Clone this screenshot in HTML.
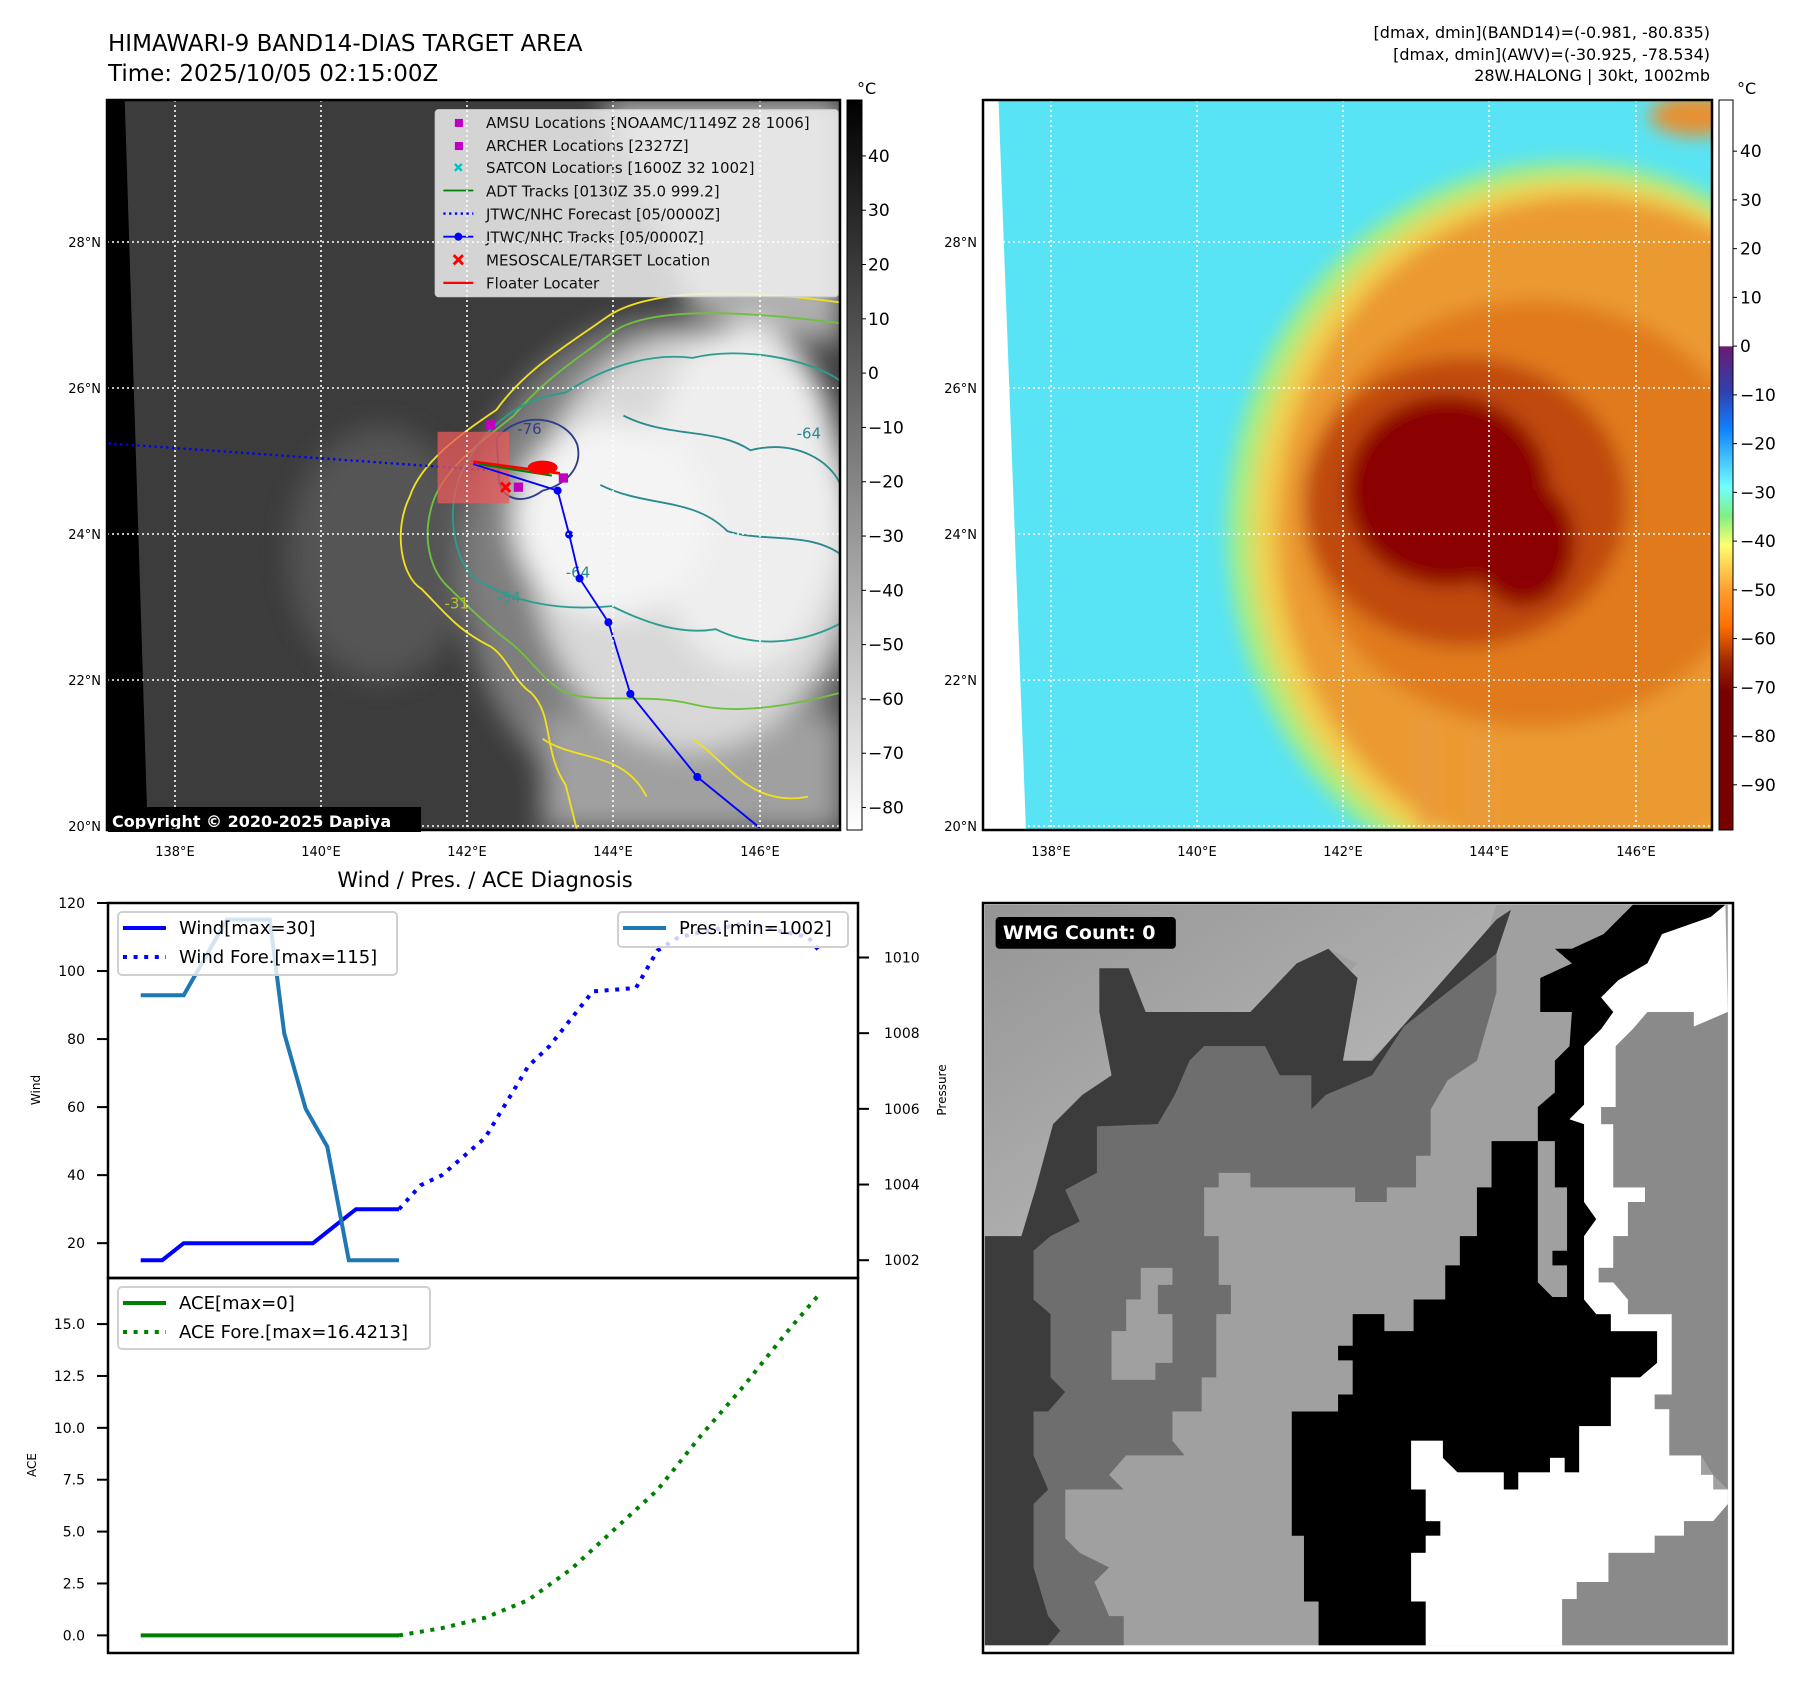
<!DOCTYPE html>
<html><head><meta charset="utf-8"><style>
html,body{margin:0;padding:0;background:#fff;}
svg{display:block;font-family:"DejaVu Sans","Liberation Sans",sans-serif;}
</style></head><body>
<svg id="fig" width="1801" height="1690" viewBox="0 0 1801 1690" xmlns="http://www.w3.org/2000/svg">
<defs>
<clipPath id="c1"><rect x="107" y="100" width="733" height="730"/></clipPath>
<clipPath id="c2"><rect x="983" y="100" width="729" height="730"/></clipPath>
<filter id="b12" x="-50%" y="-50%" width="200%" height="200%"><feGaussianBlur stdDeviation="12"/></filter>
<filter id="b8" x="-50%" y="-50%" width="200%" height="200%"><feGaussianBlur stdDeviation="8"/></filter>
<linearGradient id="cb1" x1="0" y1="0" x2="0" y2="1"><stop offset="0" stop-color="#000"/><stop offset="1" stop-color="#fff"/></linearGradient>
<linearGradient id="cb2" x1="0" y1="0" x2="0" y2="1">
<stop offset="0" stop-color="#fff"/><stop offset="0.337" stop-color="#fff"/>
<stop offset="0.338" stop-color="#6a1b70"/><stop offset="0.40" stop-color="#3040b0"/>
<stop offset="0.45" stop-color="#1080ff"/><stop offset="0.53" stop-color="#70ffff"/>
<stop offset="0.57" stop-color="#80f080"/><stop offset="0.61" stop-color="#ffff70"/>
<stop offset="0.67" stop-color="#ffa030"/><stop offset="0.72" stop-color="#ff7000"/>
<stop offset="0.77" stop-color="#a02800"/><stop offset="0.81" stop-color="#780000"/>
<stop offset="1" stop-color="#780000"/></linearGradient>
<linearGradient id="tl" x1="0" y1="0" x2="1" y2="1"><stop offset="0" stop-color="#959595"/><stop offset="0.6" stop-color="#b0b0b0"/><stop offset="1" stop-color="#c4c4c4"/></linearGradient>
</defs>

<!-- titles -->
<text x="108" y="51" font-size="23">HIMAWARI-9 BAND14-DIAS TARGET AREA</text>
<text x="108" y="81" font-size="23">Time: 2025/10/05 02:15:00Z</text>
<g font-size="16" text-anchor="end">
<text x="1710" y="38">[dmax, dmin](BAND14)=(-0.981, -80.835)</text>
<text x="1710" y="60">[dmax, dmin](AWV)=(-30.925, -78.534)</text>
<text x="1710" y="81">28W.HALONG | 30kt, 1002mb</text>
</g>

<!-- MAP 1 -->
<g clip-path="url(#c1)">
<g transform="scale(1.1545)">
<rect x="90" y="85" width="640" height="640" fill="#3c3c3c"/>
<g filter="url(#b12)">
<ellipse cx="330" cy="480" rx="80" ry="110" fill="#545454"/>
<ellipse cx="575" cy="490" rx="175" ry="215" fill="#7e7e7e"/>
<polygon points="520,86 728,86 728,300 600,270" fill="#b0b0b0"/>
<rect x="470" y="620" width="260" height="100" fill="#a0a0a0"/>
<ellipse cx="600" cy="470" rx="140" ry="180" fill="#d8d8d8"/>
<ellipse cx="645" cy="430" rx="85" ry="150" fill="#eeeeee"/>
<ellipse cx="530" cy="450" rx="85" ry="85" fill="#f4f4f4"/>
</g>
<polygon points="90,85 108,85 128,722 90,722" fill="#000"/>
<g fill="none" stroke-width="1.6">
<path d="M 728,262 C 640,250 560,250 525,275 C 490,300 455,320 430,355 C 400,375 365,400 355,430 C 340,460 348,500 365,510 C 385,530 395,545 425,560 C 440,570 445,590 460,600 C 480,620 470,650 490,680 L 500,720" stroke="#f0e020"/>
<path d="M 728,280 C 650,270 570,265 535,285 C 500,310 470,330 445,360 C 420,380 385,405 375,435 C 365,465 372,495 390,510 C 405,525 420,540 440,555 C 460,570 470,590 490,600 C 520,610 560,600 600,610 C 640,620 690,610 728,600" stroke="#70c040"/>
<path d="M 728,330 C 700,310 640,300 600,310 C 560,305 520,320 490,340 C 450,345 420,370 405,400 C 385,430 390,480 410,500 C 440,520 480,530 530,525 C 560,540 590,550 620,545 C 650,560 690,560 728,540" stroke="#2a9d8f"/>
<path d="M 540,360 C 580,380 620,370 650,390 C 690,380 720,400 728,420 M 520,420 C 560,440 600,430 630,460 C 660,470 700,460 728,480" stroke="#2a8a8f"/>
<path d="M 430,380 C 450,355 490,360 500,385 C 505,405 490,420 470,425 C 450,440 430,430 432,410 Z" stroke="#2c3e8c"/>
<path d="M 470,640 C 500,660 540,650 560,690 M 600,640 C 630,660 650,700 700,690" stroke="#f0e020"/>
</g>
<g font-size="13">
<text x="448" y="376" fill="#2c3e8c">-76</text>
<text x="490" y="500" fill="#2a8a8f">-64</text>
<text x="430" y="522" fill="#2a9d8f">-54</text>
<text x="385" y="527" fill="#c0c020">-31</text>
<text x="690" y="380" fill="#2a8a8f">-64</text>
</g>
<line x1="94" y1="384" x2="420" y2="407" stroke="#0000ff" stroke-width="2" stroke-dasharray="2 3"/>
<rect x="379" y="374" width="62" height="62" fill="rgba(235,90,90,0.75)"/>
<polyline points="410,402 483,425 493,463 502,501 527,539 546,601 604,673 658,717" fill="none" stroke="#0000ff" stroke-width="1.6"/>
<g fill="#0000ff"><circle cx="483" cy="425" r="3.5"/><circle cx="493" cy="463" r="3.5"/><circle cx="502" cy="501" r="3.5"/><circle cx="527" cy="539" r="3.5"/><circle cx="546" cy="601" r="3.5"/><circle cx="604" cy="673" r="3.5"/></g>
<line x1="410" y1="400" x2="485" y2="410" stroke="#f00" stroke-width="2.5"/>
<line x1="415" y1="402" x2="478" y2="412" stroke="#008000" stroke-width="1.8"/>
<ellipse cx="470" cy="405" rx="13" ry="6" fill="#f00"/>
<g fill="#c000c0"><rect x="421" y="364" width="8" height="8"/><rect x="484" y="410" width="8" height="8"/><rect x="445" y="418" width="8" height="8"/></g>
<path d="M 434,418 L 442,426 M 442,418 L 434,426" stroke="#f00" stroke-width="2.5"/>
<g>
<rect x="377" y="95" width="349" height="162" rx="3" fill="rgba(238,238,238,0.85)" stroke="#d0d0d0"/>
<rect x="394" y="103" width="7" height="7" fill="#c000c0"/>
<rect x="394" y="123" width="7" height="7" fill="#c000c0"/>
<path d="M 394,142 L 400,148 M 400,142 L 394,148" stroke="#00c0c0" stroke-width="2"/>
<line x1="384" y1="165" x2="410" y2="165" stroke="#008000" stroke-width="1.6"/>
<line x1="384" y1="185" x2="410" y2="185" stroke="#0000ff" stroke-width="2" stroke-dasharray="2 3"/>
<line x1="384" y1="205" x2="410" y2="205" stroke="#0000ff" stroke-width="1.6"/><circle cx="397" cy="205" r="3.5" fill="#0000ff"/>
<path d="M 393,221 L 401,229 M 401,221 L 393,229" stroke="#f00" stroke-width="2.5"/>
<line x1="384" y1="245" x2="410" y2="245" stroke="#f00" stroke-width="2"/>
<g font-size="13" fill="#111">
<text x="421" y="111">AMSU Locations [NOAAMC/1149Z 28 1006]</text>
<text x="421" y="131">ARCHER Locations [2327Z]</text>
<text x="421" y="150">SATCON Locations [1600Z 32 1002]</text>
<text x="421" y="170">ADT Tracks [0130Z 35.0 999.2]</text>
<text x="421" y="190">JTWC/NHC Forecast [05/0000Z]</text>
<text x="421" y="210">JTWC/NHC Tracks [05/0000Z]</text>
<text x="421" y="230">MESOSCALE/TARGET Location</text>
<text x="421" y="250">Floater Locater</text>
</g></g>
</g>
</g>
<g stroke="#fff" stroke-width="1.6" stroke-dasharray="2 3">
<line x1="175" y1="100" x2="175" y2="830"/><line x1="321" y1="100" x2="321" y2="830"/><line x1="467" y1="100" x2="467" y2="830"/><line x1="613" y1="100" x2="613" y2="830"/><line x1="760" y1="100" x2="760" y2="830"/>
<line x1="107" y1="242" x2="840" y2="242"/><line x1="107" y1="388" x2="840" y2="388"/><line x1="107" y1="534" x2="840" y2="534"/><line x1="107" y1="680" x2="840" y2="680"/><line x1="107" y1="826" x2="840" y2="826"/>
</g>
<rect x="108" y="807" width="313" height="25" fill="#000"/>
<text x="112" y="827" font-size="16" font-weight="bold" fill="#fff">Copyright © 2020-2025 Dapiya</text>
<rect x="107" y="100" width="733" height="730" fill="none" stroke="#000" stroke-width="2.5"/>

<!-- MAP 2 -->
<g clip-path="url(#c2)">
<g transform="translate(876,0) scale(1.1545)">
<rect x="90" y="85" width="640" height="640" fill="#58e4f4"/>
<g filter="url(#b8)">
<ellipse cx="600" cy="460" rx="295" ry="320" fill="#a8ee80"/>
<ellipse cx="605" cy="460" rx="280" ry="305" fill="#f0d050"/>
<ellipse cx="612" cy="460" rx="265" ry="290" fill="#eb9a30"/>
<ellipse cx="570" cy="445" rx="200" ry="185" fill="#e07a1a"/>
<ellipse cx="510" cy="435" rx="140" ry="125" fill="#c04a10"/>
<ellipse cx="495" cy="425" rx="88" ry="82" fill="#8b0000"/>
<ellipse cx="560" cy="470" rx="45" ry="55" fill="#8b0000"/>
<ellipse cx="710" cy="100" rx="40" ry="18" fill="#e89030"/>
<rect x="470" y="620" width="12" height="100" fill="#e89a40"/>
<rect x="520" y="630" width="10" height="90" fill="#e89a40"/>
</g>
<polygon points="90,85 106,85 130,722 90,722" fill="#fff"/>
</g>
</g>
<g stroke="#fff" stroke-width="1.6" stroke-dasharray="2 3">
<line x1="1051" y1="100" x2="1051" y2="830"/><line x1="1197" y1="100" x2="1197" y2="830"/><line x1="1343" y1="100" x2="1343" y2="830"/><line x1="1489" y1="100" x2="1489" y2="830"/><line x1="1636" y1="100" x2="1636" y2="830"/>
<line x1="983" y1="242" x2="1712" y2="242"/><line x1="983" y1="388" x2="1712" y2="388"/><line x1="983" y1="534" x2="1712" y2="534"/><line x1="983" y1="680" x2="1712" y2="680"/><line x1="983" y1="826" x2="1712" y2="826"/>
</g>
<rect x="983" y="100" width="729" height="730" fill="none" stroke="#000" stroke-width="2.5"/>

<!-- map tick labels -->
<g font-size="13">
<g text-anchor="end">
<text x="101" y="247">28°N</text><text x="101" y="393">26°N</text><text x="101" y="539">24°N</text><text x="101" y="685">22°N</text><text x="101" y="831">20°N</text>
<text x="977" y="247">28°N</text><text x="977" y="393">26°N</text><text x="977" y="539">24°N</text><text x="977" y="685">22°N</text><text x="977" y="831">20°N</text>
</g>
<g text-anchor="middle">
<text x="175" y="856">138°E</text><text x="321" y="856">140°E</text><text x="467" y="856">142°E</text><text x="613" y="856">144°E</text><text x="760" y="856">146°E</text>
<text x="1051" y="856">138°E</text><text x="1197" y="856">140°E</text><text x="1343" y="856">142°E</text><text x="1489" y="856">144°E</text><text x="1636" y="856">146°E</text>
</g></g>

<!-- colorbars -->
<rect x="847" y="100" width="15" height="730" fill="url(#cb1)" stroke="#000" stroke-width="1"/>
<rect x="1719" y="100" width="14" height="730" fill="url(#cb2)" stroke="#000" stroke-width="1"/>
<text x="857" y="94" font-size="16">°C</text>
<text x="1737" y="94" font-size="16">°C</text>
<g id="cbl" font-size="17"></g>

<!-- WMG panel -->
<g>
<svg x="980" y="900" width="760" height="760" viewBox="0 0 1560 1560">
<rect x="10" y="10" width="1525" height="1520" fill="#a0a0a0"/>
<polygon fill="url(#tl)" points="10,10 1060,10 1030,100 900,230 800,330 745,330 745,160 775,130 715,100 650,130 650,200 555,230 340,230 305,140 245,140 245,230 270,360 210,400 150,460 115,590 85,690 10,690"/>
<polygon fill="#6e6e6e" points="240,465 365,460 400,400 430,330 460,300 585,300 615,360 680,360 680,430 710,400 805,360 870,260 1060,110 1060,190 1020,330 960,370 925,430 925,525 895,525 895,590 835,590 835,620 770,620 770,590 555,590 555,560 490,560 490,590 460,590 460,690 490,690 490,790 515,790 515,850 485,850 485,980 455,980 455,1050 395,1050 395,1110 420,1140 300,1140 265,1180 295,1210 175,1210 175,1310 205,1340 265,1370 235,1400 265,1470 295,1470 295,1530 140,1530 165,1500 140,1470 110,1370 110,1240 140,1210 110,1140 110,1050 140,1050 175,1010 145,980 145,850 110,820 110,720 145,690 205,660 175,595 240,560"/>
<polygon fill="#a0a0a0" points="330,755 395,755 395,790 365,790 365,850 395,850 395,950 360,950 360,985 270,985 270,885 300,885 300,820 330,820"/>
<polygon fill="#3c3c3c" points="245,140 305,140 340,230 555,230 650,130 715,100 775,160 745,330 805,330 1060,40 1090,20 1060,110 870,260 805,360 710,400 680,430 680,360 615,360 585,300 460,300 430,330 400,400 365,460 240,465 240,560 175,595 205,660 145,690 110,720 110,820 145,850 145,980 175,1010 140,1050 110,1050 110,1140 140,1210 110,1240 110,1370 140,1470 165,1500 140,1530 10,1530 10,690 85,690 115,590 150,460 210,400 270,360 245,230"/>
<polygon fill="#000" points="1150,160 1215,130 1180,100 1215,100 1280,70 1310,40 1340,10 1530,10 1500,35 1400,70 1370,130 1310,165 1275,200 1300,230 1275,265 1240,300 1240,420 1210,450 1240,460 1240,620 1265,655 1240,690 1240,820 1265,850 1295,850 1295,885 1390,885 1390,950 1355,980 1295,980 1295,1080 1230,1080 1230,1175 1200,1175 1200,1145 1170,1145 1170,1175 1105,1175 1105,1210 1075,1210 1075,1175 980,1175 950,1145 950,1110 885,1110 885,1210 915,1210 915,1275 945,1275 945,1305 915,1305 915,1340 885,1340 885,1440 915,1440 915,1530 695,1530 695,1440 665,1440 665,1305 640,1305 640,1050 735,1050 735,1015 765,1015 765,945 735,945 735,915 765,915 765,850 830,850 830,885 890,885 890,820 955,820 955,750 985,750 985,690 1020,690 1020,590 1050,590 1050,495 1145,495 1145,425 1180,395 1180,330 1210,300 1215,230 1150,230"/>
<polygon fill="#a0a0a0" points="1145,495 1180,495 1180,590 1205,590 1205,720 1175,720 1175,750 1205,750 1205,815 1175,815 1145,785"/>
<polygon fill="#fff" points="1530,10 1535,230 1465,260 1465,230 1370,230 1340,265 1305,300 1305,425 1275,425 1275,460 1300,460 1300,590 1365,590 1365,620 1330,620 1330,690 1300,690 1300,755 1270,755 1270,785 1300,785 1330,820 1330,850 1420,850 1420,1015 1385,1015 1385,1045 1415,1045 1415,1140 1480,1140 1480,1180 1505,1180 1505,1210 1535,1210 1535,1240 1505,1275 1445,1275 1445,1305 1385,1305 1385,1340 1290,1340 1290,1400 1225,1400 1225,1435 1195,1435 1195,1530 915,1530 915,1440 885,1440 885,1340 915,1340 915,1305 945,1305 945,1275 915,1275 915,1210 885,1210 885,1110 950,1110 950,1145 980,1175 1075,1175 1075,1210 1105,1210 1105,1175 1170,1175 1170,1145 1200,1145 1200,1175 1230,1175 1230,1080 1295,1080 1295,980 1355,980 1390,950 1390,885 1295,885 1295,850 1265,850 1240,820 1240,690 1265,655 1240,620 1240,460 1210,450 1240,420 1240,300 1275,265 1300,230 1275,200 1310,165 1370,130 1400,70 1500,35"/>
<polygon fill="#8a8a8a" points="1305,300 1340,265 1370,230 1465,230 1465,260 1535,230 1535,1210 1505,1180 1480,1140 1415,1140 1415,1045 1385,1045 1385,1015 1420,1015 1420,850 1330,850 1330,820 1300,785 1270,785 1270,755 1300,755 1300,690 1330,690 1330,620 1365,620 1365,590 1300,590 1300,460 1275,460 1275,425 1305,425"/>
<polygon fill="#8a8a8a" points="1195,1530 1195,1435 1225,1435 1225,1400 1290,1400 1290,1340 1385,1340 1385,1305 1445,1305 1445,1275 1505,1275 1535,1240 1535,1530"/>
<rect x="10" y="1530" width="1525" height="20" fill="#fff"/>
<rect x="32" y="35" width="370" height="65" rx="8" fill="#000"/>
<text x="47" y="80" font-size="39" font-weight="bold" fill="#fff">WMG Count: 0</text>
</svg>
<rect x="983" y="903" width="750" height="750" fill="none" stroke="#000" stroke-width="2.5"/>
</g>

<!-- chart -->
<text x="485" y="887" font-size="21" text-anchor="middle">Wind / Pres. / ACE Diagnosis</text>
<g id="chart"></g>
</svg>
<script>
const windObsH = [0, 6, 12, 48, 54, 60, 72];
const windObs = [15, 15, 20, 20, 25, 30, 30];
const windForeH = [72, 78, 84, 96, 108, 114, 126, 138, 144, 150, 168, 186, 189];
const windFore = [30, 37, 40, 51, 72, 78, 94, 95, 106, 110, 114, 110, 106];
const presH = [0, 12, 24, 36, 40, 46, 52, 58, 72];
const pres = [1009, 1009, 1011, 1011, 1008, 1006, 1005, 1002, 1002];
const aceObsH = [0, 72];
const aceObs = [0, 0];
const aceForeH = [72, 84, 96, 108, 120, 132, 144, 156, 168, 180, 189];
const aceFore = [0, 0.35, 0.85, 1.7, 3.2, 5.1, 7.0, 9.6, 12.0, 14.6, 16.42];
const windTicks = [20, 40, 60, 80, 100, 120];
const presTicks = [1002, 1004, 1006, 1008, 1010];
const aceTicks = [0, 2.5, 5, 7.5, 10, 12.5, 15];
const cb1Ticks = [40, 30, 20, 10, 0, -10, -20, -30, -40, -50, -60, -70, -80];
const cb2Ticks = [40, 30, 20, 10, 0, -10, -20, -30, -40, -50, -60, -70, -80, -90];

const NS = 'http://www.w3.org/2000/svg';
const L = 108, R = 858, T = 903, M = 1278, B = 1653;
const hMin = -9.1, hMax = 199.9;
const x = h => L + (h - hMin) / (hMax - hMin) * (R - L);
const yW = v => T + (120 - v) / (120 - 9.76) * (M - T);
const yP = p => T + (1011.44 - p) / (1011.44 - 1001.53) * (M - T);
const yA = v => M + (17.22 - v) / (17.22 + 0.85) * (B - M);
const chart = document.getElementById('chart');
function mk(tag, at, parent) {
  const e = document.createElementNS(NS, tag);
  for (const k in at) e.setAttribute(k, at[k]);
  (parent || chart).appendChild(e);
  return e;
}
function line(hs, vs, ys, color, dash, name) {
  const pts = hs.map((h, i) => x(h).toFixed(1) + ',' + ys(vs[i]).toFixed(1)).join(' ');
  const e = mk('polyline', {points: pts, fill: 'none', stroke: color, 'stroke-width': 4});
  if (dash) e.setAttribute('stroke-dasharray', '4 6.6');
  
  
}
function txt(s, at, parent) { const e = mk('text', at, parent); e.textContent = s; return e; }
function fmt(v) { return (v < 0 ? '\u2212' : '') + Math.abs(v); }

line(windObsH, windObs, yW, '#0000ff', false, 'wind-line');
line(windForeH, windFore, yW, '#0000ff', true, 'wind-forecast-line');
line(presH, pres, yP, '#1f77b4', false, 'pressure-line');
line(aceObsH, aceObs, yA, '#008000', false, 'ace-line');
line(aceForeH, aceFore, yA, '#008000', true, 'ace-forecast-line');

windTicks.forEach(v => {
  mk('line', {x1: L - 11, x2: L, y1: yW(v), y2: yW(v), stroke: '#000', 'stroke-width': 2});
  txt(String(v), {x: L - 23, y: yW(v) + 5, 'font-size': 14, 'text-anchor': 'end'});
});
presTicks.forEach(v => {
  mk('line', {x1: R, x2: R + 11, y1: yP(v), y2: yP(v), stroke: '#000', 'stroke-width': 2});
  txt(String(v), {x: R + 26, y: yP(v) + 5, 'font-size': 14});
});
aceTicks.forEach(v => {
  mk('line', {x1: L - 11, x2: L, y1: yA(v), y2: yA(v), stroke: '#000', 'stroke-width': 2});
  txt(v.toFixed(1), {x: L - 23, y: yA(v) + 5, 'font-size': 14, 'text-anchor': 'end'});
});
mk('rect', {x: L, y: T, width: R - L, height: M - T, fill: 'none', stroke: '#000', 'stroke-width': 2.5});
mk('rect', {x: L, y: M, width: R - L, height: B - M, fill: 'none', stroke: '#000', 'stroke-width': 2.5});
txt('Wind', {x: 0, y: 0, 'font-size': 12, 'text-anchor': 'middle', transform: 'translate(40,1090) rotate(-90)'});
txt('Pressure', {x: 0, y: 0, 'font-size': 12, 'text-anchor': 'middle', transform: 'translate(946,1090) rotate(-90)'});
txt('ACE', {x: 0, y: 0, 'font-size': 12, 'text-anchor': 'middle', transform: 'translate(36,1465) rotate(-90)'});

function legend(bx, by, bw, bh, items) {
  const g = mk('g', {});
  
  
  mk('rect', {x: bx, y: by, width: bw, height: bh, rx: 4, fill: 'rgba(255,255,255,0.8)', stroke: '#d0d0d0', 'stroke-width': 2}, g);
  items.forEach(it => {
    const l = mk('line', {x1: bx + 5, x2: bx + 48, y1: it.y, y2: it.y, stroke: it.c, 'stroke-width': 4}, g);
    if (it.d) l.setAttribute('stroke-dasharray', '4 6.6');
    txt(it.t, {x: bx + 61, y: it.y + 6, 'font-size': 18}, g);
  });
}
legend(118, 912, 279, 63, [{y: 928, c: '#0000ff', t: 'Wind[max=30]'}, {y: 957, c: '#0000ff', d: 1, t: 'Wind Fore.[max=115]'}]);
legend(618, 912, 230, 35, [{y: 928, c: '#1f77b4', t: 'Pres.[min=1002]'}]);
legend(118, 1287, 312, 62, [{y: 1303, c: '#008000', t: 'ACE[max=0]'}, {y: 1332, c: '#008000', d: 1, t: 'ACE Fore.[max=16.4213]'}]);

const cbl = document.getElementById('cbl');
cb1Ticks.forEach(v => {
  const yy = 100 + (50.3 - v) * 5.43;
  mk('line', {x1: 862, x2: 866, y1: yy, y2: yy, stroke: '#000'}, cbl);
  txt(fmt(v), {x: 868, y: yy + 6}, cbl);
});
cb2Ticks.forEach(v => {
  const yy = 100 + (50.5 - v) * 4.874;
  mk('line', {x1: 1733, x2: 1737, y1: yy, y2: yy, stroke: '#000'}, cbl);
  txt(fmt(v), {x: 1740, y: yy + 6}, cbl);
});
</script>
</body></html>
